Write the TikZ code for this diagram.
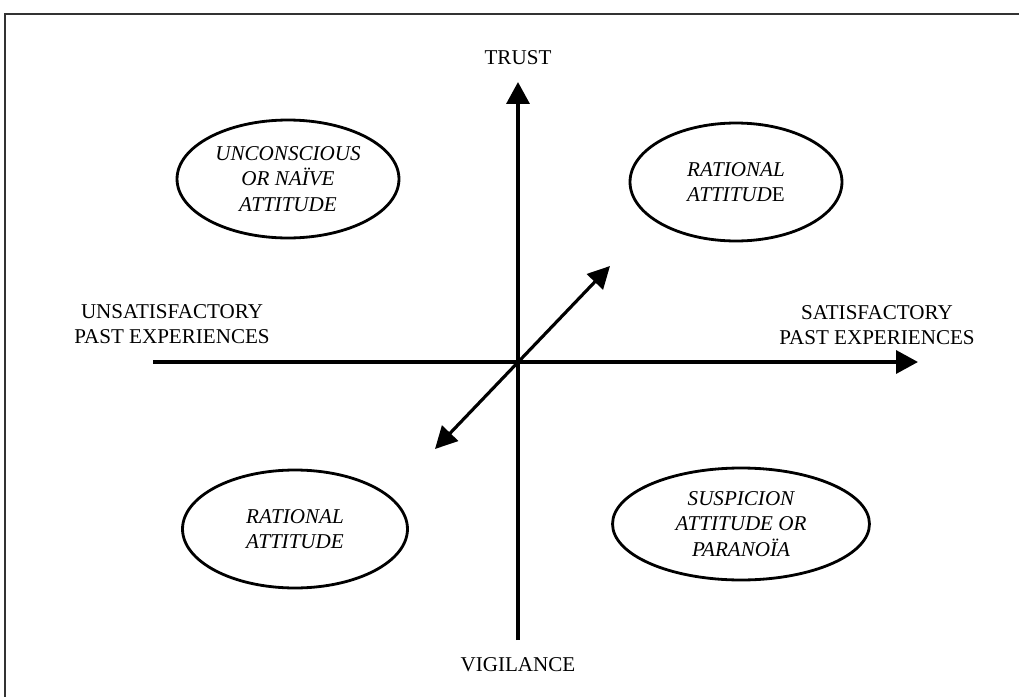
\documentclass[tikz,border=0pt]{standalone}
\usepackage{fontspec}
\setmainfont{Liberation Serif}
\usetikzlibrary{arrows.meta,shapes.geometric}

\begin{document}
\begin{tikzpicture}[x=0.02cm,y=-0.02cm,
        attitude/.style={draw,ellipse,line width=1.6pt,inner sep=0pt,align=center,
                         font=\fontsize{12}{14.5}\selectfont\itshape},
        axislabel/.style={align=center,font=\fontsize{12}{14.5}\selectfont},
        axis/.style={line width=2pt,-{Triangle[length=0.44cm,width=0.46cm]}}]
    \useasboundingbox (0,0) rectangle (1019,697);
    \draw[line width=1pt,black!80] (5,697) -- (5,14) -- (1019,14);

    \coordinate (origin) at (518,362);
    \coordinate (trustend) at (518,82);
    \coordinate (vigend) at (518,640);
    \coordinate (unsatend) at (153,362);
    \coordinate (satend) at (918,362);
    \coordinate (diagup) at (610,266);
    \coordinate (diagdown) at (435,449);

    \node[axislabel] (trust) at (518,58) {TRUST};
    \node[axislabel] (vigilance) at (518,665) {VIGILANCE};
    \node[axislabel] (unsat) at (172,324) {UNSATISFACTORY\\PAST EXPERIENCES};
    \node[axislabel] (sat) at (877,325) {SATISFACTORY\\PAST EXPERIENCES};

    \node[attitude,minimum width=4.44cm,minimum height=2.36cm] (naive) at (288,179)
        {UNCONSCIOUS\\OR NAÏVE\\ATTITUDE};
    \node[attitude,minimum width=4.24cm,minimum height=2.36cm] (ratup) at (736,182)
        {RATIONAL\\ATTITUD{\upshape E}};
    \node[attitude,minimum width=4.5cm,minimum height=2.36cm] (ratdown) at (295,529)
        {RATIONAL\\ATTITUDE};
    \node[attitude,minimum width=5.14cm,minimum height=2.24cm] (suspicion) at (741,524)
        {SUSPICION\\ATTITUDE OR\\PARANOÏA};

    \draw[axis] (vigend) -- (trustend);
    \draw[axis] (unsatend) -- (satend);
    \draw[line width=1.8pt,{Triangle[length=0.44cm,width=0.44cm]}-{Triangle[length=0.44cm,width=0.44cm]}]
        (diagdown) -- (diagup);
    %\draw (origin) circle (2pt);
\end{tikzpicture}
\end{document}
